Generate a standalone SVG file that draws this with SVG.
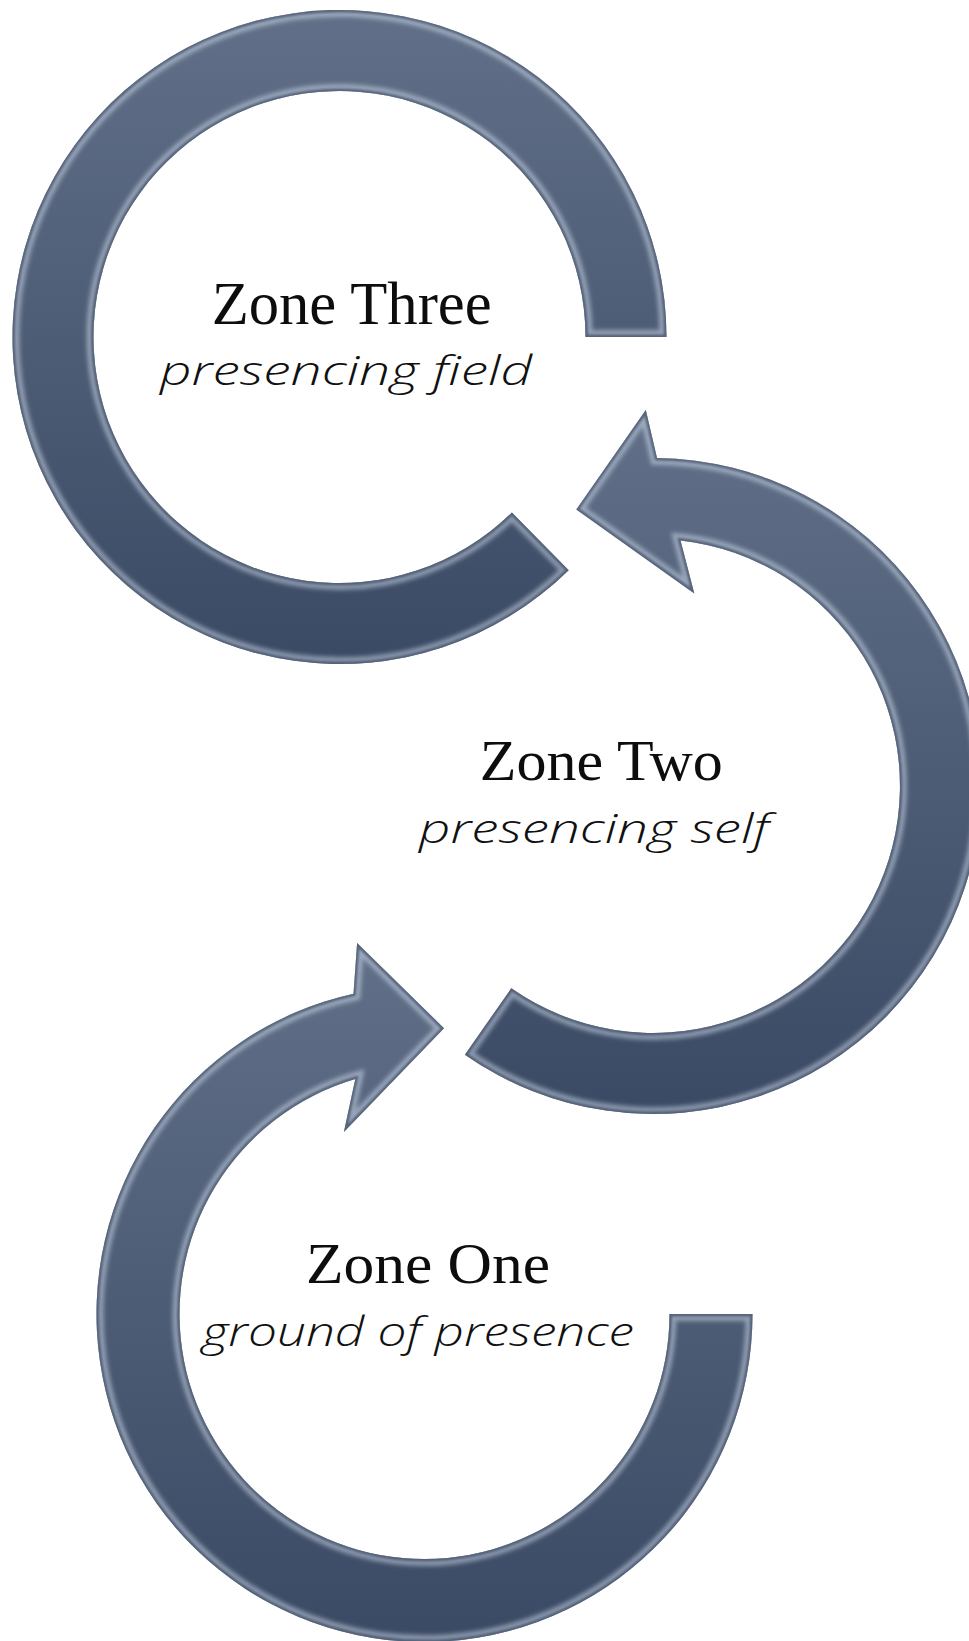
<svg xmlns="http://www.w3.org/2000/svg" xmlns:xlink="http://www.w3.org/1999/xlink" width="969" height="1641" viewBox="0 0 969 1641">
<style>
.title{font-family:"Liberation Serif","Times New Roman",serif;fill:#0d0d0d;text-anchor:middle}
.script{font-family:"Open Sans","Liberation Serif",sans-serif;font-style:italic;font-weight:300;fill:#111111;text-anchor:middle}
.body{stroke:none}
.rimL{fill:none;stroke:#d6e2f2;stroke-width:14;stroke-opacity:0.5}
.rimD{fill:none;stroke:#3a4961;stroke-width:5;stroke-opacity:0.7}
</style>
<defs>
<linearGradient id="steel" x1="0" y1="0" x2="0" y2="1">
<stop offset="0" stop-color="#617088"/>
<stop offset="0.5" stop-color="#4e5d76"/>
<stop offset="1" stop-color="#3b4a64"/>
</linearGradient>
<filter id="soft" x="-5%" y="-5%" width="110%" height="110%">
<feGaussianBlur stdDeviation="2"/>
</filter>
<filter id="soft1" x="-5%" y="-5%" width="110%" height="110%">
<feGaussianBlur stdDeviation="1"/>
</filter>
<path id="p3" d="M 666.5 337 A 327 327 0 1 0 568.7 570.2 L 511.9 512.5 A 246 246 0 1 1 585.5 337 Z"/>
<path id="p2" d="M 464.9 1054.7 A 328 328 0 1 0 657.0 458.0 L 645.8 410.1 L 576.3 509.4 L 694.3 593.4 L 680.5 540.5 A 247 247 0 1 1 511.3 988.3 Z"/>
<path id="p1" d="M 752.5 1314 A 328 328 0 1 1 353.5 993.8 L 357.1 943.1 L 444.0 1028.2 L 343.9 1132.1 L 355.3 1079.0 A 245 245 0 1 0 669.5 1314 Z"/>
<clipPath id="c3"><use xlink:href="#p3"/></clipPath>
<clipPath id="c2"><use xlink:href="#p2"/></clipPath>
<clipPath id="c1"><use xlink:href="#p1"/></clipPath>
</defs>
<rect width="969" height="1641" fill="#ffffff"/>
<g id="connectors">
<g id="arc-zone-three">
<use xlink:href="#p3" class="body" fill="url(#steel)"/>
<g clip-path="url(#c3)">
<use xlink:href="#p3" class="rimL" filter="url(#soft)"/>
<use xlink:href="#p3" class="rimD" filter="url(#soft1)"/>
</g>
</g>
<g id="arrow-zone-two">
<use xlink:href="#p2" class="body" fill="url(#steel)"/>
<g clip-path="url(#c2)">
<use xlink:href="#p2" class="rimL" filter="url(#soft)"/>
<use xlink:href="#p2" class="rimD" filter="url(#soft1)"/>
</g>
</g>
<g id="arrow-zone-one">
<use xlink:href="#p1" class="body" fill="url(#steel)"/>
<g clip-path="url(#c1)">
<use xlink:href="#p1" class="rimL" filter="url(#soft)"/>
<use xlink:href="#p1" class="rimD" filter="url(#soft1)"/>
</g>
</g>
</g>
<g id="zone-three">
<text class="title" x="351.7" y="324" font-size="61" textLength="280" lengthAdjust="spacingAndGlyphs">Zone Three</text>
<text class="script" x="346" y="385" font-size="40" textLength="372" lengthAdjust="spacingAndGlyphs">presencing field</text>
</g>
<g id="zone-two">
<text class="title" x="601.3" y="780" font-size="58" textLength="243" lengthAdjust="spacingAndGlyphs">Zone Two</text>
<text class="script" x="594" y="843" font-size="40" textLength="350" lengthAdjust="spacingAndGlyphs">presencing self</text>
</g>
<g id="zone-one">
<text class="title" x="428" y="1283" font-size="57" textLength="244" lengthAdjust="spacingAndGlyphs">Zone One</text>
<text class="script" x="418" y="1346" font-size="40" textLength="432" lengthAdjust="spacingAndGlyphs">ground of presence</text>
</g>
</svg>
